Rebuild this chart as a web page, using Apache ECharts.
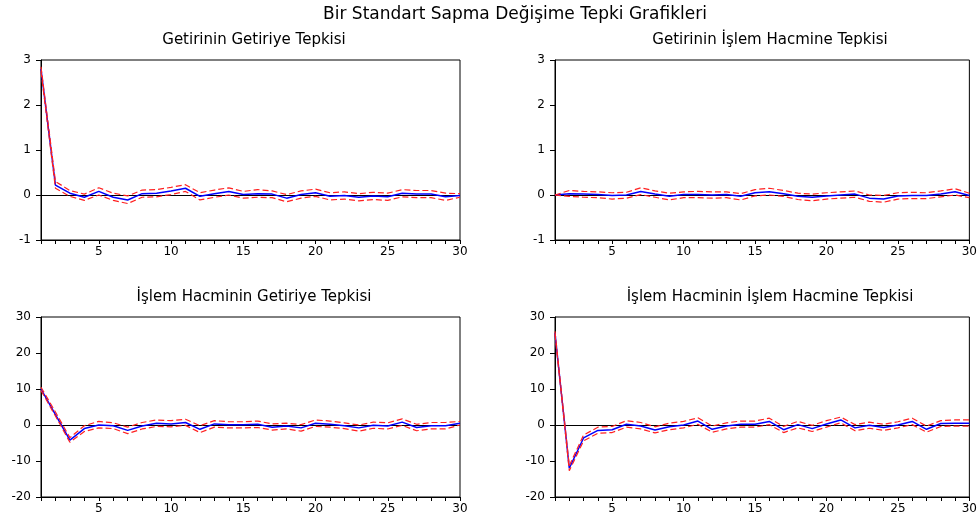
<!DOCTYPE html>
<html><head><meta charset="utf-8">
<script src="https://cdn.jsdelivr.net/npm/echarts@6/dist/echarts.min.js"></script>
<style>html,body{margin:0;padding:0;background:#fff}#c{width:980px;height:520px}</style>
</head><body><div id="c"></div>
<script>
const mainTitle = "Bir Standart Sapma Değişime Tepki Grafikleri";
const panelTitles = ["Getirinin Getiriye Tepkisi","Getirinin İşlem Hacmine Tepkisi","İşlem Hacminin Getiriye Tepkisi","İşlem Hacminin İşlem Hacmine Tepkisi"];
const periods = [1,2,3,4,5,6,7,8,9,10,11,12,13,14,15,16,17,18,19,20,21,22,23,24,25,26,27,28,29,30];

const p1Resp  = [2.8,0.22,0.04,-0.05,0.08,-0.05,-0.11,0.03,0.04,0.09,0.15,-0.03,0.03,0.08,0.01,0.03,0.02,-0.07,0.01,0.05,-0.03,-0.01,-0.05,-0.02,-0.04,0.04,0.02,0.02,-0.04,-0.01];
const p1Upper = [2.85,0.3,0.1,0.02,0.16,0.04,-0.02,0.11,0.12,0.17,0.23,0.05,0.11,0.16,0.08,0.12,0.09,0.01,0.09,0.13,0.05,0.07,0.03,0.06,0.04,0.12,0.1,0.1,0.04,0.03];
const p1Lower = [2.75,0.15,-0.03,-0.12,0.0,-0.12,-0.19,-0.05,-0.04,0.01,0.08,-0.11,-0.05,0.0,-0.07,-0.05,-0.06,-0.15,-0.07,-0.03,-0.11,-0.09,-0.13,-0.1,-0.12,-0.04,-0.06,-0.06,-0.12,-0.05];

const p2Resp  = [0,0.03,0.02,0.01,-0.01,0.0,0.08,0.02,-0.03,0.01,0.01,0.0,0.01,-0.03,0.05,0.07,0.03,-0.03,-0.05,-0.02,0.0,0.02,-0.07,-0.09,-0.02,-0.01,-0.01,0.02,0.07,-0.01];
const p2Upper = [0.0,0.1,0.08,0.07,0.05,0.06,0.16,0.09,0.04,0.07,0.08,0.07,0.07,0.03,0.12,0.15,0.1,0.04,0.02,0.05,0.07,0.09,0.0,-0.01,0.05,0.06,0.05,0.09,0.14,0.04];
const p2Lower = [0.0,-0.03,-0.05,-0.06,-0.09,-0.07,0.01,-0.05,-0.11,-0.06,-0.06,-0.07,-0.06,-0.11,-0.02,0.0,-0.03,-0.1,-0.13,-0.09,-0.07,-0.05,-0.14,-0.16,-0.09,-0.08,-0.08,-0.04,0.0,-0.06];

const p3Resp  = [10,2.9,-4.2,-1,0,-0.2,-1.5,-0.3,0.5,0.3,0.7,-1.2,0.3,0.1,0.1,0.2,-0.6,-0.3,-0.8,0.5,0.2,-0.2,-0.8,-0.1,-0.3,0.8,-0.7,-0.2,-0.2,0.5];
const p3Upper = [10.5,3.6,-3.5,-0.2,1.0,0.6,-0.6,0.7,1.4,1.2,1.6,-0.2,1.2,0.9,0.9,1.1,0.3,0.5,0.1,1.4,1.1,0.6,0.0,0.8,0.6,1.7,0.2,0.7,0.7,1.0];
const p3Lower = [9.6,2.5,-4.8,-1.8,-0.8,-1.0,-2.4,-1.1,-0.4,-0.5,-0.1,-2.1,-0.6,-0.8,-0.8,-0.7,-1.4,-1.1,-1.7,-0.4,-0.6,-1.0,-1.7,-0.9,-1.1,-0.1,-1.6,-1.1,-1.1,0.0];

const p4Resp  = [25.5,-12,-3.6,-1.5,-1.3,0.2,-0.3,-1.4,-0.5,0.0,1.1,-1.2,-0.3,0.2,0.2,1.0,-1.3,0.1,-1.0,0.3,1.4,-0.8,-0.1,-0.7,0.0,1.0,-1.2,0.4,0.5,0.5];
const p4Upper = [26,-11.3,-2.8,-0.6,-0.4,1.2,0.7,-0.5,0.5,1.0,2.0,-0.3,0.6,1.1,1.1,1.9,-0.4,1.0,-0.1,1.2,2.2,0.1,0.8,0.2,0.9,1.9,-0.3,1.2,1.4,1.4];
const p4Lower = [25.2,-12.7,-4.4,-2.3,-2.1,-0.6,-1.1,-2.2,-1.3,-0.8,0.2,-2.0,-1.1,-0.6,-0.6,0.1,-2.1,-0.8,-1.8,-0.6,0.6,-1.6,-0.9,-1.5,-0.8,0.1,-2.0,-0.4,-0.3,-0.3];

const yMins = [-1,-1,-20,-20];
const yMaxs = [3,3,30,30];
const yIntervals = [1,1,10,10];

const panels = [[p1Resp,p1Upper,p1Lower],[p2Resp,p2Upper,p2Lower],[p3Resp,p3Upper,p3Lower],[p4Resp,p4Upper,p4Lower]];

const font = "DejaVu Sans, Verdana, sans-serif";
const grids = [
  {left:41, top:60, width:419, height:180},
  {left:555, top:60, width:418, height:180},
  {left:41, top:317, width:419, height:180},
  {left:555, top:317, width:418, height:180}
].map(g => Object.assign(g, {show:true, borderColor:'#000', borderWidth:1, containLabel:false}));

const titleCenters = [[249,28],[765,28],[249,285],[765,285]];
const titles = [{text: mainTitle, left: 510, top: 1, textAlign:'center',
  textStyle:{fontFamily:font, fontSize:17, fontWeight:'normal', color:'#000'}}];
panelTitles.forEach((t,i)=>titles.push({text:t, left:titleCenters[i][0], top:titleCenters[i][1], textAlign:'center',
  textStyle:{fontFamily:font, fontSize:15, fontWeight:'normal', color:'#000'}}));

const xAxes = [], yAxes = [], series = [];
for (let i=0;i<4;i++){
  xAxes.push({gridIndex:i, type:'value', min:1, max:30, interval:1,
    axisLine:{onZero:false, lineStyle:{color:'#000', width:1}},
    axisTick:{show:true, length:4, lineStyle:{color:'#000'}},
    axisLabel:{fontFamily:font, fontSize:12, color:'#000', margin:6,
      formatter: v => (v % 5 === 0 ? String(v) : '')},
    splitLine:{show:false}});
  yAxes.push({gridIndex:i, type:'value', min:yMins[i], max:yMaxs[i], interval:yIntervals[i],
    axisLine:{show:true, lineStyle:{color:'#000', width:1}},
    axisTick:{show:true, length:5, lineStyle:{color:'#000'}},
    axisLabel:{fontFamily:font, fontSize:12, color:'#000', margin:10},
    splitLine:{show:false}});
  const [resp, up, lo] = panels[i];
  const mk = arr => periods.map((p,k)=>[p, arr[k]]);
  series.push({type:'line', xAxisIndex:i, yAxisIndex:i, data: mk(resp), showSymbol:false, symbol:'none',
    lineStyle:{color:'#0000ff', width:1.5}, z:3, animation:false,
    markLine:{silent:true, symbol:'none', label:{show:false}, animation:false,
      lineStyle:{color:'#000', width:1, type:'solid'}, data:[{yAxis:0}], z:2}});
  series.push({type:'line', xAxisIndex:i, yAxisIndex:i, data: mk(up), showSymbol:false, symbol:'none',
    lineStyle:{color:'#ff2020', width:1.2, type:[6,3]}, z:4, animation:false});
  series.push({type:'line', xAxisIndex:i, yAxisIndex:i, data: mk(lo), showSymbol:false, symbol:'none',
    lineStyle:{color:'#ff2020', width:1.2, type:[6,3]}, z:4, animation:false});
}

const chart = echarts.init(document.getElementById('c'), null, {renderer:'canvas'});
chart.setOption({backgroundColor:'#fff', animation:false, title:titles, grid:grids, xAxis:xAxes, yAxis:yAxes, series:series});
</script></body></html>
